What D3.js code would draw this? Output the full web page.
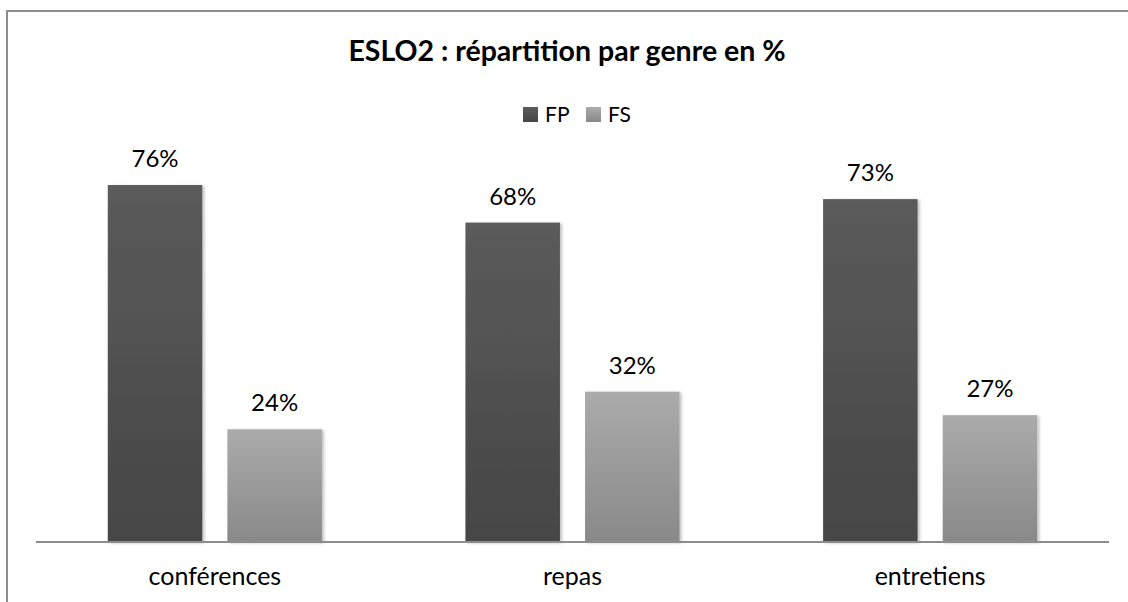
<!DOCTYPE html>
<html>
<head>
<meta charset="utf-8">
<script src="https://cdn.jsdelivr.net/npm/d3@7"></script>
<style>
  body { margin: 0; background: #fff; }
  text { font-family: Lato, "Open Sans", sans-serif; }
</style>
</head>
<body>
<script>
var w = 1128;
var h = 602;

var categories = ["conférences", "repas", "entretiens"];
var series = ["FP", "FS"];
var fpValues = [76, 68, 73];
var fsValues = [24, 32, 27];
var title = "ESLO2 : répartition par genre en %";

var colors = {
  "FP": ["#5b5b5b", "#464646"],
  "FS": ["#ababab", "#898989"]
};

var data = categories.map(function(c, i) {
  return {cat: c, values: [
    {key: "FP", value: fpValues[i]},
    {key: "FS", value: fsValues[i]}
  ]};
});

var svg = d3.select("body")
            .append("svg")
              .attr("width", w)
              .attr("height", h);

var defs = svg.append("defs");
series.forEach(function(s) {
  var g = defs.append("linearGradient")
    .attr("id", "grad-" + s)
    .attr("x1", 0).attr("y1", 0).attr("x2", 0).attr("y2", 1);
  g.append("stop").attr("offset", "0%").attr("stop-color", colors[s][0]);
  g.append("stop").attr("offset", "100%").attr("stop-color", colors[s][1]);
});
defs.append("filter")
    .attr("id", "shadow")
    .attr("x", "-10%").attr("y", "-10%").attr("width", "130%").attr("height", "130%")
  .append("feDropShadow")
    .attr("dx", 2).attr("dy", 1)
    .attr("stdDeviation", 1.5)
    .attr("flood-color", "#000")
    .attr("flood-opacity", 0.25);

// outer frame (runs off the right/bottom edge)
svg.append("rect")
  .attr("x", 7)
  .attr("y", 11)
  .attr("width", w + 20)
  .attr("height", h + 20)
  .attr("fill", "none")
  .attr("stroke", "#8c8c8c")
  .attr("stroke-width", 2);

var x0 = d3.scaleBand()
  .domain(categories)
  .range([36, 1109]);

var x1 = d3.scaleBand()
  .domain(series)
  .range([0, x0.bandwidth()])
  .paddingInner(0.21)
  .paddingOuter(0.6);

var y = d3.scaleLinear()
  .domain([0, 80])
  .range([542, 542 - 80 * 4.697]);

var groups = svg.selectAll("g.cat")
  .data(data)
  .enter()
  .append("g")
    .attr("class", "cat")
    .attr("transform", function(d) { return "translate(" + x0(d.cat) + ",0)"; });

groups.selectAll("rect")
  .data(function(d) { return d.values; })
  .enter()
  .append("rect")
    .attr("x", function(d) { return x1(d.key); })
    .attr("y", function(d) { return y(d.value); })
    .attr("width", x1.bandwidth())
    .attr("height", function(d) { return y(0) - y(d.value); })
    .attr("fill", function(d) { return "url(#grad-" + d.key + ")"; })
    .attr("filter", "url(#shadow)");

groups.selectAll("text.val")
  .data(function(d) { return d.values; })
  .enter()
  .append("text")
    .attr("class", "val")
    .text(function(d) { return d.value + "%"; })
    .attr("x", function(d) { return x1(d.key) + x1.bandwidth() / 2; })
    .attr("y", function(d) { return y(d.value) - 18; })
    .attr("font-size", "24px")
    .attr("fill", "#000")
    .attr("text-anchor", "middle");

// x axis
var xAxis = svg.append("g")
  .attr("transform", "translate(0,542)")
  .call(d3.axisBottom(x0).tickSize(0).tickPadding(0));
xAxis.select(".domain")
  .attr("d", "M36,0H1109")
  .attr("stroke", "#8c8c8c")
  .attr("stroke-width", 2);
xAxis.selectAll(".tick text")
  .attr("y", 43)
  .attr("dy", 0)
  .attr("font-size", "25px")
  .attr("font-family", "Lato, 'Open Sans', sans-serif")
  .attr("fill", "#000");

// title
svg.append("text")
  .text(title)
  .attr("x", 567)
  .attr("y", 61)
  .attr("font-size", "28.5px")
  .attr("font-weight", "bold")
  .attr("fill", "#000")
  .attr("text-anchor", "middle");

// legend
var legend = svg.selectAll("g.legend")
  .data(series)
  .enter()
  .append("g")
    .attr("class", "legend")
    .attr("transform", function(d, i) { return "translate(" + (523 + i * 63) + ",107)"; });

legend.append("rect")
  .attr("width", 15)
  .attr("height", 15)
  .attr("fill", function(d) { return "url(#grad-" + d + ")"; });

legend.append("text")
  .text(function(d) { return d; })
  .attr("x", 22)
  .attr("y", 15)
  .attr("font-size", "21px")
  .attr("fill", "#000");
</script>
</body>
</html>
